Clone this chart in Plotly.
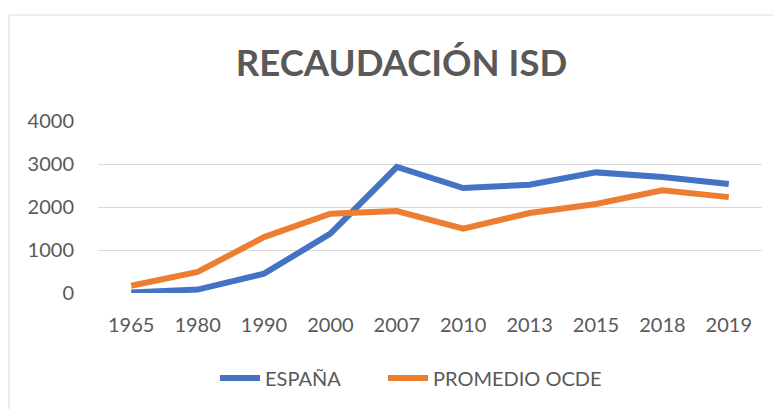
import plotly.graph_objects as go

years = ["1965", "1980", "1990", "2000", "2007", "2010", "2013", "2015", "2018", "2019"]
espana = [10, 80, 450, 1380, 2930, 2440, 2520, 2805, 2700, 2535]
ocde = [170, 490, 1300, 1845, 1905, 1495, 1860, 2070, 2390, 2230]
y_ticks = [0, 1000, 2000, 3000, 4000]

FONT = "Lato"
GREY = "#595959"

# the page body adds an 8px margin, so the figure is laid out in page coords minus 8
OFF = 8
W, H = 781 - OFF, 409 - OFF
L, R, T, B = 98 - OFF, 781 - 762, 121 - OFF, 409 - 293
plot_w = W - L - R
plot_h = H - T - B


def px_x(page_x):
    return (page_x - OFF - L) / plot_w


def px_y(page_y):
    return (H - B - (page_y - OFF)) / plot_h


fig = go.Figure()
fig.add_trace(go.Scatter(x=years, y=espana, name="ESPAÑA", mode="lines",
                         line=dict(color="#4472C4", width=6), legend="legend"))
fig.add_trace(go.Scatter(x=years, y=ocde, name="PROMEDIO OCDE", mode="lines",
                         line=dict(color="#ED7D31", width=6), legend="legend2"))

leg_common = dict(orientation="h", yanchor="middle", xanchor="left", y=px_y(378),
                  font=dict(family=FONT, size=20, color=GREY), itemwidth=40,
                  bgcolor="rgba(0,0,0,0)")

fig.update_layout(
    width=W, height=H,
    margin=dict(l=L, r=R, t=T, b=B),
    paper_bgcolor="white", plot_bgcolor="white",
    font=dict(family=FONT, color=GREY, size=20),
    title=dict(text="<b>RECAUDACIÓN ISD</b>", x=(401.5 - OFF) / W, xref="container",
               xanchor="center", y=1 - (63 - OFF) / H, yref="container", yanchor="middle",
               font=dict(family=FONT, size=36.5, color=GREY)),
    showlegend=True,
    legend=dict(x=px_x(215), **leg_common),
    legend2=dict(x=px_x(383), **leg_common),
    xaxis=dict(type="category", range=[-0.5, len(years) - 0.5], showgrid=False,
               showline=False, zeroline=False, ticks="", ticklabelstandoff=18,
               tickfont=dict(size=20, color=GREY)),
    yaxis=dict(range=[0, 4000], tickvals=y_ticks, showgrid=True, gridcolor="#D9D9D9",
               gridwidth=1, zeroline=False, showline=False, ticks="", ticklabelstandoff=23,
               tickfont=dict(size=20, color=GREY)),
    shapes=[dict(type="rect", xref="paper", yref="paper",
                 x0=px_x(9), x1=2.0, y0=-2.0, y1=px_y(15),
                 line=dict(color="#D9D9D9", width=1), fillcolor="rgba(0,0,0,0)", layer="below")],
)

fig.write_html("out.html")
